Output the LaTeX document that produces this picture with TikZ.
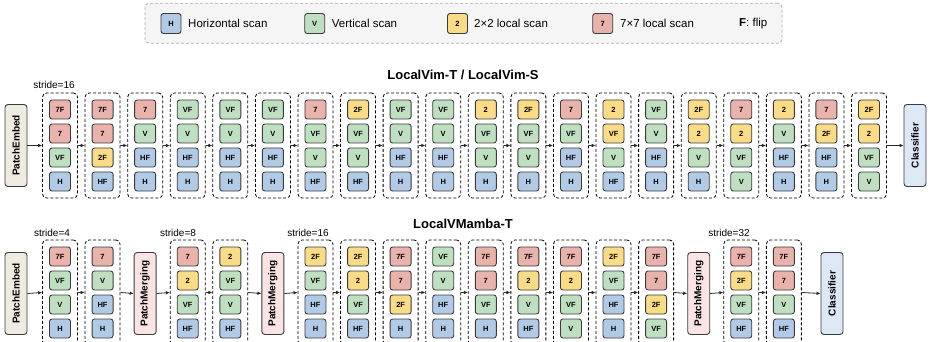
\documentclass[tikz,border=0pt]{standalone}
\usepackage{fontspec}
\setmainfont{Liberation Sans}
\usepackage{graphicx}
\usetikzlibrary{arrows.meta}

\definecolor{cH}{RGB}{177,203,231}
\definecolor{cV}{RGB}{190,224,193}
\definecolor{cT}{RGB}{250,220,135}
\definecolor{cS}{RGB}{233,178,170}
\definecolor{peFill}{RGB}{238,236,224}
\definecolor{pmFill}{RGB}{252,228,228}
\definecolor{clsFill}{RGB}{221,232,246}
\definecolor{boxLine}{RGB}{60,60,60}
\definecolor{legLine}{RGB}{175,175,175}
\definecolor{legFill}{RGB}{245,245,245}
\definecolor{arrowC}{RGB}{40,40,40}

\newcommand\scantxt{}
\tikzset{
  scantext/.store in=\scantxt,
  scanbox/.style={draw=boxLine, line width=0.9pt, rounded corners=2.5pt,
    minimum width=21pt, minimum height=19pt, inner sep=0pt,
    font=\fontsize{7.5}{8}\selectfont\bfseries},
  sH/.style={scanbox, fill=cH, scantext=H},
  sHF/.style={scanbox, fill=cH, scantext=HF},
  sV/.style={scanbox, fill=cV, scantext=V},
  sVF/.style={scanbox, fill=cV, scantext=VF},
  sVFy/.style={scanbox, fill=cT, scantext=VF},
  s2/.style={scanbox, fill=cT, scantext=2},
  s2F/.style={scanbox, fill=cT, scantext=2F},
  s7/.style={scanbox, fill=cS, scantext=7},
  s7F/.style={scanbox, fill=cS, scantext=7F},
  stage/.style={draw=black, line width=0.8pt, dash pattern=on 3pt off 2pt,
    rounded corners=4pt, minimum width=35pt, minimum height=105pt, inner sep=0pt},
  sidebox/.style={draw=boxLine, line width=0.9pt, rounded corners=3pt,
    minimum width=22pt, minimum height=82pt, inner sep=0pt,
    font=\fontsize{10}{11}\selectfont\bfseries},
  flow/.style={-{Latex[length=4pt,width=3.6pt]}, line width=0.8pt, draw=arrowC},
  heading/.style={font=\fontsize{13}{14}\selectfont\bfseries, inner sep=0pt},
  stridelbl/.style={font=\fontsize{10}{11}\selectfont, inner sep=0pt},
  legtext/.style={font=\fontsize{11.5}{12}\selectfont, anchor=west, inner sep=0pt},
}

% one dashed stage with its four scans, top to bottom
\newcommand\stagecol[7]{%
  \node[stage] (#1) at ({60+42.58*(#2-1)},#3) {};
  \node[#4] (#1-1) at ({60+42.58*(#2-1)},#3-36) {\scantxt};
  \node[#5] (#1-2) at ({60+42.58*(#2-1)},#3-12) {\scantxt};
  \node[#6] (#1-3) at ({60+42.58*(#2-1)},#3+12) {\scantxt};
  \node[#7] (#1-4) at ({60+42.58*(#2-1)},#3+36) {\scantxt};
}

\begin{document}
\begin{tikzpicture}[x=1pt,y=-1pt]
\clip (0,0) rectangle (932,342);

% legend
\node[draw=legLine, fill=legFill, line width=0.8pt, dash pattern=on 3pt off 2pt,
  rounded corners=4pt, minimum width=637pt, minimum height=40pt, inner sep=0pt]
  (legend) at (463.5,23.2) {};
\node[sH, minimum height=20pt, minimum width=20pt] (lgH) at (171,23.5) {\scantxt};
\node[legtext] (lgHt) at (188,23.5) {Horizontal scan};
\node[sV, minimum height=20pt, minimum width=20pt] (lgV) at (314.7,23.5) {\scantxt};
\node[legtext] (lgVt) at (331.7,23.5) {Vertical scan};
\node[s2, minimum height=20pt, minimum width=20pt] (lg2) at (457.5,23.5) {\scantxt};
\node[legtext] (lg2t) at (474,23.5) {2×2 local scan};
\node[s7, minimum height=20pt, minimum width=20pt] (lg7) at (602.7,23.5) {\scantxt};
\node[legtext] (lg7t) at (620,23.5) {7×7 local scan};
\node[legtext] (lgF) at (739,23.5) {\textbf{F}: flip};

% ---------------- LocalVim ----------------
\node[heading] (titleA) at (463,75) {LocalVim-T / LocalVim-S};
\node[stridelbl] (strA) at (54,85) {stride=16};
\node[sidebox, fill=peFill] (peA) at (16,145.5) {\rotatebox{90}{PatchEmbed}};

\stagecol{a1}{1}{145.5}{s7F}{s7}{sVF}{sH}
\stagecol{a2}{2}{145.5}{s7F}{s7}{s2F}{sHF}
\stagecol{a3}{3}{145.5}{s7}{sV}{sHF}{sH}
\stagecol{a4}{4}{145.5}{sVF}{sV}{sHF}{sH}
\stagecol{a5}{5}{145.5}{sVF}{sV}{sHF}{sH}
\stagecol{a6}{6}{145.5}{sVF}{sV}{sHF}{sH}
\stagecol{a7}{7}{145.5}{s7}{sVF}{sV}{sHF}
\stagecol{a8}{8}{145.5}{s2F}{sVF}{sV}{sHF}
\stagecol{a9}{9}{145.5}{sVF}{sV}{sHF}{sH}
\stagecol{a10}{10}{145.5}{sVF}{sV}{sHF}{sH}
\stagecol{a11}{11}{145.5}{s2}{sVF}{sV}{sH}
\stagecol{a12}{12}{145.5}{s2F}{sVF}{sV}{sH}
\stagecol{a13}{13}{145.5}{s7}{sVF}{sHF}{sH}
\stagecol{a14}{14}{145.5}{s2}{sVFy}{sV}{sHF}
\stagecol{a15}{15}{145.5}{sVF}{sV}{sHF}{sH}
\stagecol{a16}{16}{145.5}{s2F}{s2}{sV}{sH}
\stagecol{a17}{17}{145.5}{s7}{s2}{sVF}{sV}
\stagecol{a18}{18}{145.5}{s2}{sV}{sHF}{sH}
\stagecol{a19}{19}{145.5}{s7}{s2F}{sHF}{sH}
\stagecol{a20}{20}{145.5}{s2F}{s2}{sVF}{sV}

\node[sidebox, fill=clsFill] (clsA) at (915,145.5) {\rotatebox{90}{Classifier}};

\draw[flow] (peA.east) -- (a1.west);
\foreach \i [evaluate=\i as \j using int(\i+1)] in {1,...,19}
  \draw[flow] (a\i.east) -- (a\j.west);
\draw[flow] (a20.east) -- (clsA.west);

% ---------------- LocalVMamba ----------------
\node[heading] (titleB) at (463,224) {LocalVMamba-T};
\node[stridelbl] (strB1) at (52,233) {stride=4};
\node[stridelbl] (strB2) at (178,233) {stride=8};
\node[stridelbl] (strB3) at (308,233) {stride=16};
\node[stridelbl] (strB4) at (729,233) {stride=32};

\node[sidebox, fill=peFill] (peB) at (16,293.5) {\rotatebox{90}{PatchEmbed}};

\stagecol{b1}{1}{292.5}{s7F}{sVF}{sV}{sH}
\stagecol{b2}{2}{292.5}{s7}{sV}{sHF}{sH}
\node[sidebox, fill=pmFill] (pm1) at ({60+42.58*2},293.5) {\rotatebox{90}{PatchMerging}};
\stagecol{b3}{4}{292.5}{s7}{s2}{sVF}{sHF}
\stagecol{b4}{5}{292.5}{s2}{sVF}{sV}{sHF}
\node[sidebox, fill=pmFill] (pm2) at ({60+42.58*5},293.5) {\rotatebox{90}{PatchMerging}};
\stagecol{b5}{7}{292.5}{s2F}{sVF}{sHF}{sH}
\stagecol{b6}{8}{292.5}{s2F}{s2}{sVF}{sHF}
\stagecol{b7}{9}{292.5}{s7F}{s7}{s2F}{sH}
\stagecol{b8}{10}{292.5}{sVF}{sV}{sHF}{sH}
\stagecol{b9}{11}{292.5}{s7F}{s7}{sVF}{sH}
\stagecol{b10}{12}{292.5}{s7F}{s2}{sV}{sHF}
\stagecol{b11}{13}{292.5}{s7F}{s2}{sVF}{sV}
\stagecol{b12}{14}{292.5}{s2F}{sVF}{sHF}{sH}
\stagecol{b13}{15}{292.5}{s7F}{s7}{s2F}{sVF}
\node[sidebox, fill=pmFill] (pm3) at ({60+42.58*15},293.5) {\rotatebox{90}{PatchMerging}};
\stagecol{b14}{17}{292.5}{s7F}{s2F}{sVF}{sHF}
\stagecol{b15}{18}{292.5}{s7F}{s7}{sV}{sHF}
\node[sidebox, fill=clsFill] (clsB) at (832,293.5) {\rotatebox{90}{Classifier}};

\draw[flow] (peB.east) -- (b1.west);
\draw[flow] (b1.east) -- (b2.west);
\draw[flow] (b2.east) -- (pm1.west);
\draw[flow] (pm1.east) -- (b3.west);
\draw[flow] (b3.east) -- (b4.west);
\draw[flow] (b4.east) -- (pm2.west);
\draw[flow] (pm2.east) -- (b5.west);
\foreach \i [evaluate=\i as \j using int(\i+1)] in {5,...,12}
  \draw[flow] (b\i.east) -- (b\j.west);
\draw[flow] (b13.east) -- (pm3.west);
\draw[flow] (pm3.east) -- (b14.west);
\draw[flow] (b14.east) -- (b15.west);
\draw[flow] (b15.east) -- (clsB.west);
\end{tikzpicture}
\end{document}
